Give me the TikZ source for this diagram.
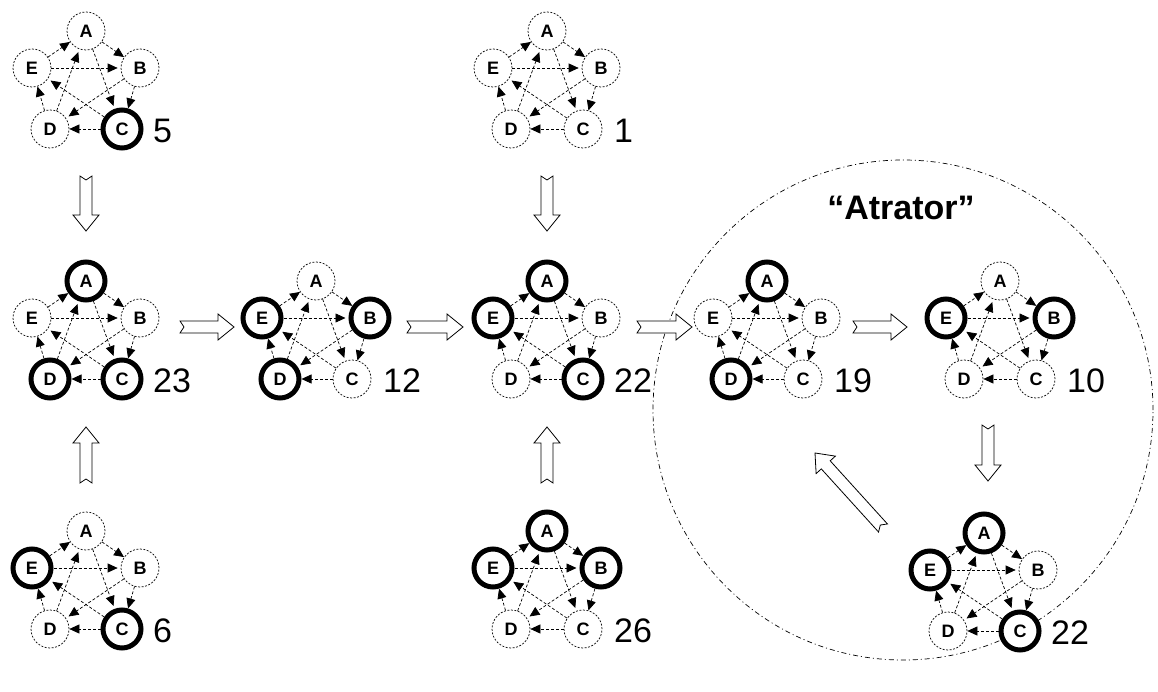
\documentclass[tikz,border=0pt]{standalone}
\usepackage{fontspec}
\setmainfont{Liberation Sans}
\usetikzlibrary{arrows.meta,calc}

% one network: five states on a pentagon, outer cycle plus inner star
\newcommand{\stategraph}[8]{%
	\begin{scope}[shift={(#2)}]
		\node[state,#3] (#1A) at (0,-37) {A};
		\node[state,#4] (#1B) at (54,0) {B};
		\node[state,#5] (#1C) at (36,61) {C};
		\node[state,#6] (#1D) at (-36,61) {D};
		\node[state,#7] (#1E) at (-54,0) {E};
		\node[count] (#1n) at (67,63) {#8};
	\end{scope}
	\foreach \s/\t in {A/B,B/C,C/D,D/E,E/A}
		\draw[link] (#1\s) -- (#1\t);
	\foreach \s/\t in {A/C,B/D,C/E,D/A,E/B}
		\draw[link,chord] (#1\s) -- (#1\t);
}

\begin{document}
\begin{tikzpicture}[x=1pt, y=-1pt,
			state/.style={circle, draw, fill=white, minimum size=38pt, inner sep=0pt, font=\fontsize{18}{18}\selectfont\bfseries},
			resting/.style={line width=0.7pt, dash pattern=on 2pt off 1.5pt},
			firing/.style={line width=5pt},
			link/.style={line width=0.7pt, dash pattern=on 3pt off 2pt, -{Triangle[length=10pt,width=9pt]}},
			chord/.style={shorten >=3pt},
			count/.style={anchor=west, inner sep=0pt, font=\fontsize{34}{34}\selectfont},
			basin/.style={line width=0.7pt, dash pattern=on 5pt off 3pt on 1pt off 3pt},
			flow/.style={draw, line width=0.8pt, fill=white, to path={
				($(\tikztostart)!6pt!90:(\tikztotarget)$)
				-- ($(\tikztotarget)!16pt!(\tikztostart)!6pt!90:(\tikztotarget)$)
				-- ($(\tikztotarget)!16pt!(\tikztostart)!13pt!90:(\tikztotarget)$)
				-- (\tikztotarget)
				-- ($(\tikztotarget)!16pt!(\tikztostart)!13pt!-90:(\tikztotarget)$)
				-- ($(\tikztotarget)!16pt!(\tikztostart)!6pt!-90:(\tikztotarget)$)
				-- ($(\tikztostart)!6pt!-90:(\tikztotarget)$)
				-- ($(\tikztostart)!4pt!(\tikztotarget)$) -- cycle}}]

	\useasboundingbox (0,0) rectangle (1158,692);

	% attractor region
	\draw[basin] (903,410) circle[radius=250pt];
	\node[font=\fontsize{34}{34}\selectfont\bfseries] (attractor) at (901,208) {“Atrator”};

	% networks: name, centre, A B C D E, state number
	\stategraph{g1}{86,68}{resting}{resting}{firing}{resting}{resting}{5}
	\stategraph{g2}{547,68}{resting}{resting}{resting}{resting}{resting}{1}
	\stategraph{g3}{86,318}{firing}{resting}{firing}{firing}{resting}{23}
	\stategraph{g4}{316,318}{resting}{firing}{resting}{firing}{firing}{12}
	\stategraph{g5}{547,318}{firing}{resting}{firing}{resting}{firing}{22}
	\stategraph{g6}{767,318}{firing}{resting}{resting}{firing}{resting}{19}
	\stategraph{g7}{1000,318}{resting}{firing}{resting}{resting}{firing}{10}
	\stategraph{g8}{86,568}{resting}{resting}{firing}{resting}{firing}{6}
	\stategraph{g9}{547,568}{firing}{firing}{resting}{resting}{firing}{26}
	\stategraph{g10}{984,570}{firing}{resting}{firing}{resting}{firing}{22}

	% transitions
	\coordinate (t1s) at (86,176);   \coordinate (t1e) at (86,231);
	\coordinate (t2s) at (547,176);  \coordinate (t2e) at (547,231);
	\coordinate (t3s) at (86,483);   \coordinate (t3e) at (86,427);
	\coordinate (t4s) at (547,483);  \coordinate (t4e) at (547,427);
	\coordinate (t5s) at (180,327);  \coordinate (t5e) at (234,327);
	\coordinate (t6s) at (407,327);  \coordinate (t6e) at (463,327);
	\coordinate (t7s) at (637,327);  \coordinate (t7e) at (692,327);
	\coordinate (t8s) at (853,327);  \coordinate (t8e) at (907,327);
	\coordinate (t9s) at (988,425);  \coordinate (t9e) at (988,481);
	\coordinate (t10s) at (883,528); \coordinate (t10e) at (815,453);

	\foreach \i in {1,...,10}
		\draw[flow] (t\i s) to (t\i e);
\end{tikzpicture}
\end{document}
